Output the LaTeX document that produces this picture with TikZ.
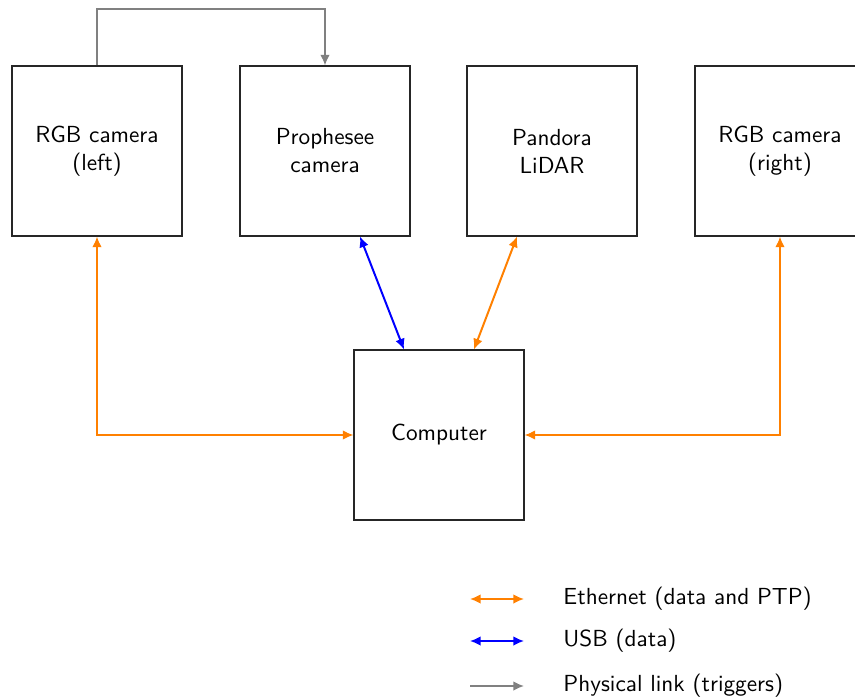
\documentclass[tikz,border=0pt]{standalone}
\usetikzlibrary{arrows.meta,calc}
\definecolor{eth}{RGB}{255,128,0}
\begin{document}
\begin{tikzpicture}[x=0.43pt,y=-0.43pt,
  font=\sffamily,
  dev/.style={draw=black!85,line width=0.45pt,minimum width=73.1pt,minimum height=73.1pt,align=center,inner sep=0pt},
  tip/.style={Latex[length=4.6pt,width=4.2pt]},
  ethl/.style={draw=eth,line width=0.85pt,{Latex[length=4.6pt,width=4.2pt]}-{Latex[length=4.6pt,width=4.2pt]}},
  usbl/.style={draw=blue,line width=0.85pt,{Latex[length=4.6pt,width=4.2pt]}-{Latex[length=4.6pt,width=4.2pt]}},
  trig/.style={draw=gray,line width=0.85pt,-{Latex[length=4.6pt,width=4.2pt]}},
  legtxt/.style={anchor=west,inner sep=0pt}]
\clip (0,0) rectangle (855,700);
\node[dev] (lrgb) at (97,151) {RGB camera\\(left)};
\node[dev] (proph) at (325,151) {Prophesee\\camera};
\node[dev] (lidar) at (552,151) {Pandora\\LiDAR};
\node[dev] (rrgb) at (780,151) {RGB camera\\(right)};
\node[dev] (comp) at (439,435) {Computer};
\coordinate (top) at (0,9);
\draw[trig] (lrgb.north) -- (lrgb.north |- top) -| (proph.north);
\draw[ethl] (lrgb.south) |- (comp.west);
\draw[ethl] (rrgb.south) |- (comp.east);
\draw[usbl] ($(proph.south)+(35,0)$) -- ($(comp.north)+(-35,0)$);
\draw[ethl] ($(lidar.south)+(-35,0)$) -- ($(comp.north)+(35,0)$);
% legend
\coordinate (l1a) at (470,599); \coordinate (l1b) at (524,599);
\coordinate (l2a) at (470,641); \coordinate (l2b) at (524,641);
\coordinate (l3a) at (470,686); \coordinate (l3b) at (524,686);
\draw[ethl] (l1a) -- (l1b);
\draw[usbl] (l2a) -- (l2b);
\draw[trig] (l3a) -- (l3b);
\node[legtxt] (t1) at (563,599) {Ethernet (data and PTP)};
\node[legtxt] (t2) at (563,641) {USB (data)};
\node[legtxt] (t3) at (563,686) {Physical link (triggers)};
\end{tikzpicture}
\end{document}
